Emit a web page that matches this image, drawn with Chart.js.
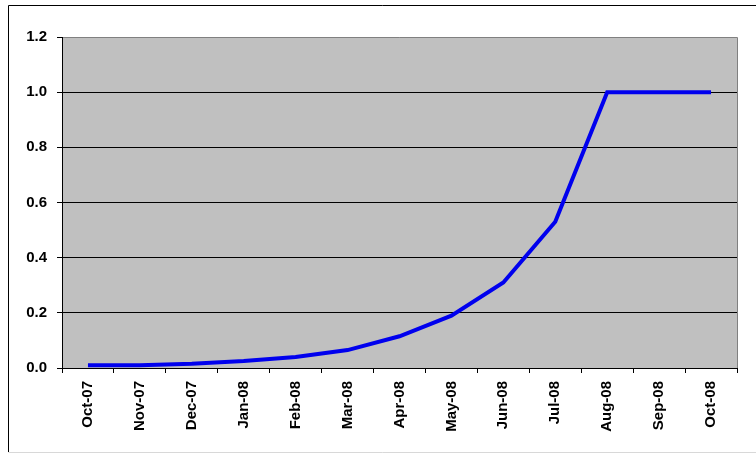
<!DOCTYPE html>
<html lang="en">
<head>
  <meta charset="UTF-8">
  <title>Cumulative curve</title>
  <script src="https://cdn.jsdelivr.net/npm/chart.js"></script>
  <style>
    body {
      margin: 0;
      background: #fff;
    }
    #wrap {
      position: relative;
      width: 756px;
      height: 455px;
    }
  </style>
</head>
<body>
<div id="wrap">
  <canvas id="curveChart" width="756" height="455"></canvas>
</div>

<script>
  const months = ['Oct-07', 'Nov-07', 'Dec-07', 'Jan-08', 'Feb-08', 'Mar-08', 'Apr-08',
                  'May-08', 'Jun-08', 'Jul-08', 'Aug-08', 'Sep-08', 'Oct-08'];
  const values = [0.01, 0.01, 0.015, 0.025, 0.04, 0.065, 0.115, 0.19, 0.31, 0.53, 1.0, 1.0, 1.0];
  const yTicks = [0, 0.2, 0.4, 0.6, 0.8, 1.0, 1.2];

  const fontSpec = { family: 'Arial, "Liberation Sans", sans-serif', size: 15, weight: 'bold' };

  // grey plot area + frame lines, like the old spreadsheet chart
  const plotFrame = {
    id: 'plotFrame',
    beforeDraw(chart) {
      const { ctx, chartArea: a } = chart;
      ctx.save();
      ctx.fillStyle = '#c0c0c0';
      ctx.fillRect(a.left, a.top, a.right - a.left, a.bottom - a.top);
      ctx.strokeStyle = '#808080';
      ctx.lineWidth = 1;
      ctx.beginPath();
      ctx.moveTo(a.left, a.top + 0.5);
      ctx.lineTo(a.right + 0.5, a.top + 0.5);
      ctx.lineTo(a.right + 0.5, a.bottom);
      ctx.stroke();
      // outer border of the chart object
      ctx.strokeStyle = '#000';
      ctx.beginPath();
      ctx.moveTo(8.5, 452);
      ctx.lineTo(8.5, 5.5);
      ctx.lineTo(756, 5.5);
      ctx.stroke();
      ctx.strokeStyle = '#d8d8d8';
      ctx.beginPath();
      ctx.moveTo(8.5, 452.5);
      ctx.lineTo(756, 452.5);
      ctx.stroke();
      ctx.restore();
    }
  };

  new Chart(document.getElementById('curveChart'), {
    type: 'line',
    data: {
      labels: months,
      datasets: [{
        data: values,
        borderColor: '#0000ee',
        borderWidth: 4,
        pointRadius: 0,
        tension: 0,
        fill: false
      }]
    },
    options: {
      responsive: false,
      animation: false,
      layout: { padding: { top: 37, right: 19, left: 0, bottom: 0 } },
      plugins: {
        legend: { display: false },
        tooltip: { enabled: false }
      },
      scales: {
        x: {
          type: 'category',
          offset: true,
          afterFit: s => { s.height = 87; },
          grid: {
            offset: true,
            drawOnChartArea: false,
            color: '#000',
            tickLength: 5
          },
          border: { color: '#000', width: 1 },
          ticks: {
            color: '#000',
            font: fontSpec,
            minRotation: 90,
            maxRotation: 90,
            padding: 8,
            autoSkip: false
          }
        },
        y: {
          min: 0,
          max: 1.2,
          afterFit: s => { s.width = 62; },
          afterBuildTicks: s => { s.ticks = yTicks.map(v => ({ value: v })); },
          grid: {
            color: c => (c.tick && c.tick.value > 1.1 ? 'rgba(0,0,0,0)' : '#000'),
            lineWidth: 1,
            tickLength: 5,
            tickColor: '#000'
          },
          border: { color: '#000', width: 1 },
          ticks: {
            color: '#000',
            font: fontSpec,
            padding: 10,
            callback: v => Number(v).toFixed(1)
          }
        }
      }
    },
    plugins: [plotFrame]
  });
</script>
</body>
</html>
